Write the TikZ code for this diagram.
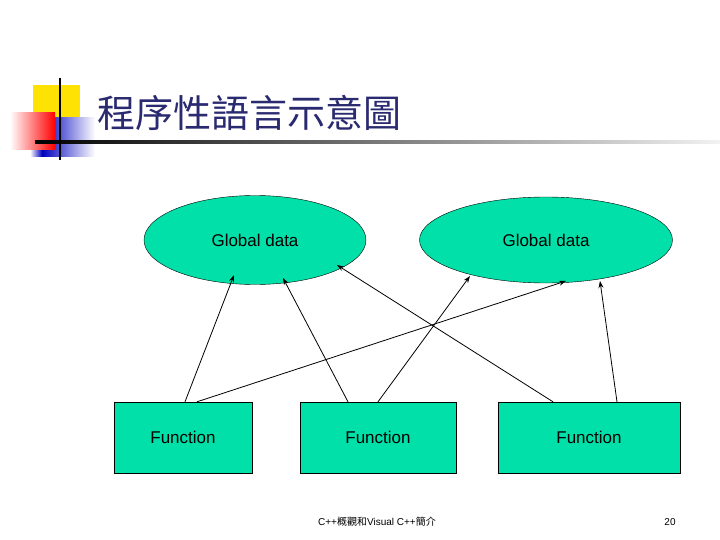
\documentclass[tikz,border=0pt]{standalone}
\usepackage{fontspec}
\setmainfont{Liberation Sans}
\newfontfamily\cjk{Noto Sans CJK TC}
\usetikzlibrary{arrows.meta,shapes.geometric}
\definecolor{aquafill}{HTML}{00E0A8}
\definecolor{navy}{HTML}{2A2A70}
\begin{document}
\begin{tikzpicture}[x=1pt,y=-1pt,
  gd/.style={ellipse,draw=black,fill=aquafill,inner sep=0pt},
  fn/.style={rectangle,draw=black,fill=aquafill,minimum height=71pt,font=\fontsize{17}{20}\selectfont},
  conn/.style={-{Stealth[length=7pt,width=5pt]},thick}]
\useasboundingbox (0,0) rectangle (720,540);
\fill[white] (0,0) rectangle (720,540);
% logo
\fill[yellow!85!orange] (33,85) rectangle (80,125);
\shade[left color=white,right color=blue!75!black] (30,118) rectangle (42,157);
\shade[left color=blue!75!black,right color=white] (42,118) rectangle (95,157);
\shade[left color=white,right color=red] (10,113) rectangle (55,150);
\shade[left color=black,right color=black!5] (35,141) rectangle (720,143.5);
\draw[line width=2.5pt] (60,78) -- (60,160);
\node[anchor=west,text=navy,font=\cjk\fontsize{38}{40}\selectfont,inner sep=0pt] (title) at (97,113) {程序性語言示意圖};
% nodes
\node[gd,minimum width=222pt,minimum height=89pt,font=\fontsize{17}{20}\selectfont] (g1) at (255,240) {Global data};
\node[gd,minimum width=253pt,minimum height=86pt,font=\fontsize{17}{20}\selectfont] (g2) at (546,240) {Global data};
\node[fn,minimum width=138pt] (f1) at (183,437.5) {Function};
\node[fn,minimum width=156pt] (f2) at (378,437.5) {Function};
\node[fn,minimum width=182pt] (f3) at (589,437.5) {Function};
\coordinate (a1) at (234,275); \coordinate (a2) at (283,278);
\coordinate (a3) at (566,281); \coordinate (a4) at (470,276);
\coordinate (a5) at (337,265); \coordinate (a6) at (600,281);
\draw[conn] (f1.north -| 185,0) -- (a1);
\draw[conn] (f2.north -| 348,0) -- (a2);
\draw[conn] (f1.north -| 197,0) -- (a3);
\draw[conn] (f2.north -| 378,0) -- (a4);
\draw[conn] (f3.north -| 553,0) -- (a5);
\draw[conn] (f3.north -| 617,0) -- (a6);
\node[font=\fontsize{10}{12}\selectfont] (foot) at (377,522) {C++{\cjk 概觀和}Visual C++{\cjk 簡介}};
\node[font=\fontsize{10}{12}\selectfont] (pg) at (670,522) {20};
\end{tikzpicture}
\end{document}
